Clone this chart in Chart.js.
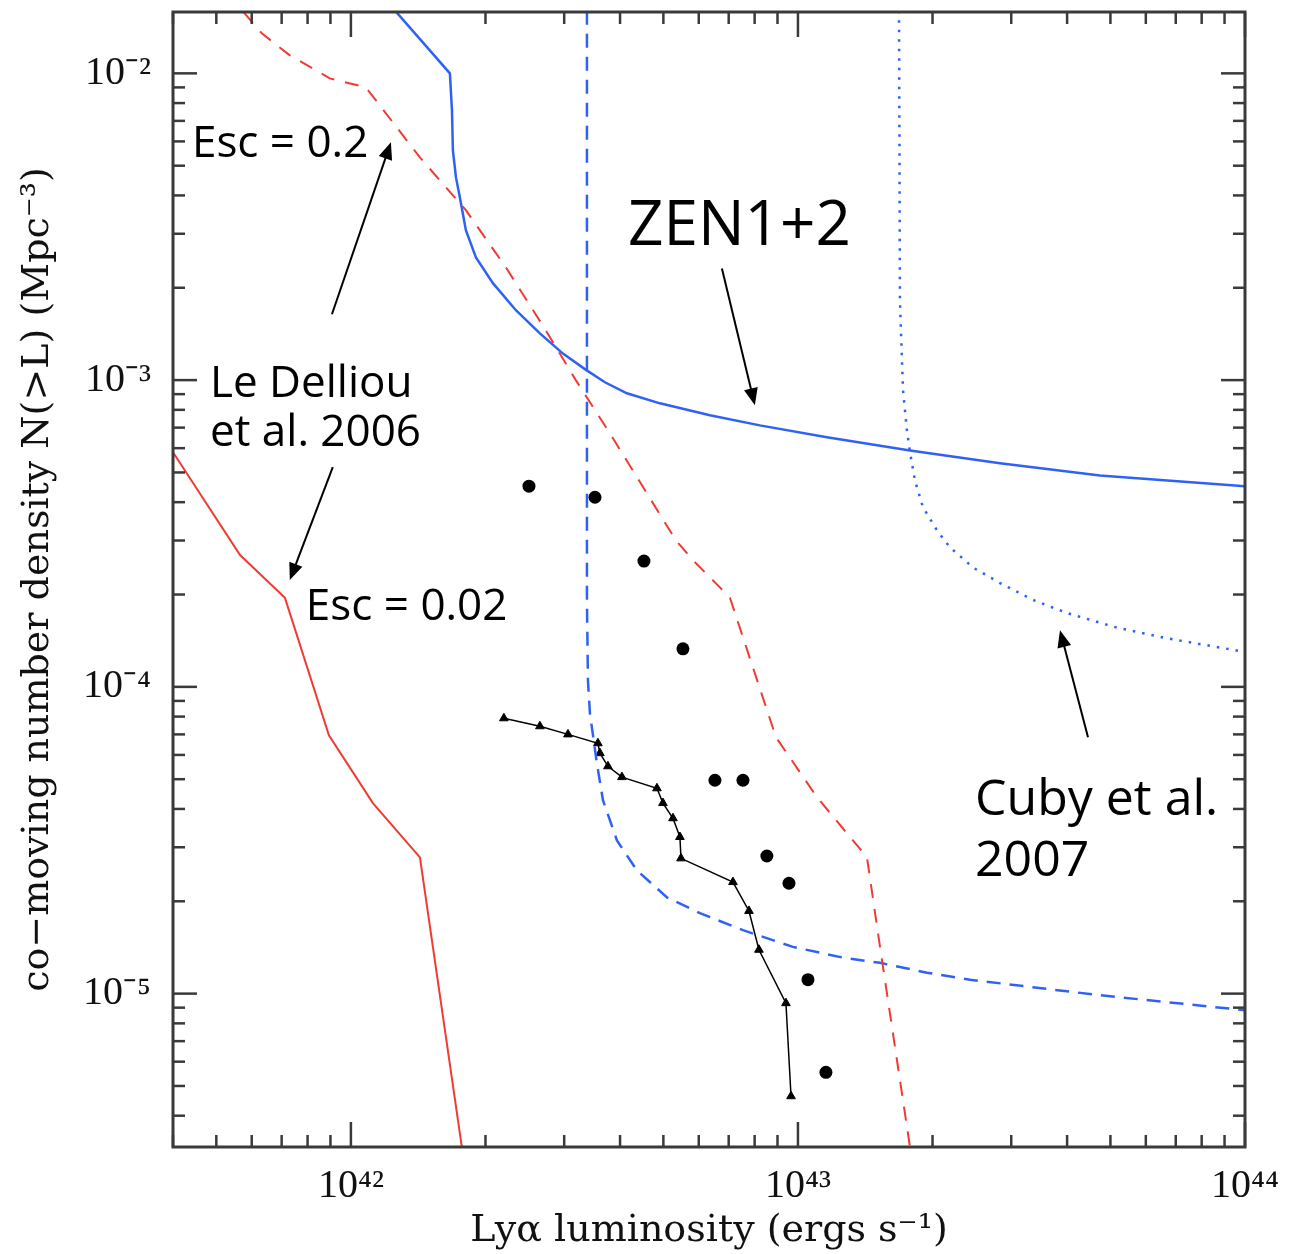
<!DOCTYPE html>
<html>
<head>
<meta charset="utf-8">
<title>Cumulative Lya number density</title>
<script src="https://cdn.jsdelivr.net/npm/chart.js@4.4.1/dist/chart.umd.min.js"></script>
<style>
  html, body { margin: 0; padding: 0; background: #fff; }
  #chart { display: block; }
</style>
</head>
<body>
<canvas id="chart" width="1289" height="1254"></canvas>
<script>
// Lya luminosity (erg/s) and N(>L) (Mpc^-3)

// Le Delliou et al. 2006, Esc = 0.02 (red solid)
const esc002L = [4.0e41, 5.65e41, 7.12e41, 8.93e41, 1.12e42, 1.427e42, 1.771e42];
const esc002N = [5.82e-4, 2.69e-4, 1.95e-4, 6.95e-5, 4.18e-5, 2.78e-5, 3.16e-6];

// Le Delliou et al. 2006, Esc = 0.2 (red dashed)
const esc02L = [5.76e41, 6.32e41, 7.30e41, 8.97e41, 1.08e42, 1.427e42, 1.808e42, 2.222e42, 2.731e42,
                3.187e42, 3.796e42, 5.335e42, 5.82e42, 6.69e42, 7.05e42, 8.93e42, 1.103e43, 1.427e43,
                1.526e43, 1.781e43];
const esc02N = [1.58e-2, 1.35e-2, 1.145e-2, 9.63e-3, 9.0e-3, 5.32e-3, 3.58e-3, 2.33e-3, 1.45e-3,
                9.98e-4, 6.71e-4, 3.0e-4, 2.59e-4, 2.11e-4, 1.945e-4, 6.85e-5, 4.37e-5, 2.78e-5,
                1.42e-5, 3.16e-6];

// ZEN1+2 limit (blue solid)
const zenL = [1.254e42, 1.665e42, 1.683e42, 1.691e42, 1.718e42, 1.753e42, 1.808e42, 1.904e42, 2.078e42,
              2.339e42, 2.647e42, 2.981e42, 3.356e42, 3.70e42, 4.144e42, 4.912e42, 6.355e42, 8.22e42,
              1.161e43, 1.781e43, 2.831e43, 4.738e43, 1e44];
const zenN = [1.604e-2, 1.0e-2, 7.57e-3, 5.61e-3, 4.58e-3, 3.94e-3, 3.08e-3, 2.51e-3, 2.07e-3,
              1.69e-3, 1.42e-3, 1.22e-3, 1.08e-3, 9.84e-4, 9.06e-4, 8.40e-4, 7.68e-4, 7.12e-4,
              6.51e-4, 5.90e-4, 5.36e-4, 4.89e-4, 4.51e-4];

// second limit curve (blue dashed)
const dashL = [3.373e42, 3.373e42, 3.39e42, 3.425e42, 3.55e42, 3.663e42, 3.936e42, 4.364e42, 5.093e42,
               6.036e42, 7.534e42, 9.745e42, 1.261e43, 1.526e43, 1.944e43, 2.425e43, 4.738e43, 1e44];
const dashN = [1.6e-2, 1.92e-4, 1.05e-4, 8.20e-5, 5.64e-5, 4.27e-5, 3.16e-5, 2.52e-5, 2.06e-5,
               1.83e-5, 1.61e-5, 1.42e-5, 1.31e-5, 1.26e-5, 1.17e-5, 1.11e-5, 9.88e-6, 8.83e-6];

// Cuby et al. 2007 (blue dotted)
const cubyL = [1.683e43, 1.691e43, 1.718e43, 1.753e43, 1.781e43, 1.827e43, 1.904e43, 2.046e43, 2.188e43,
               2.463e43, 2.831e43, 3.356e43, 3.998e43, 5.171e43, 6.69e43, 1e44];
const cubyN = [1.6e-2, 1.82e-3, 9.26e-4, 6.86e-4, 5.82e-4, 4.71e-4, 3.85e-4, 3.24e-4, 2.85e-4,
               2.45e-4, 2.18e-4, 1.92e-4, 1.74e-4, 1.56e-4, 1.44e-4, 1.30e-4];

// observed cumulative counts (black triangles)
const triL = [2.199e42, 2.647e42, 3.059e42, 3.569e42, 3.606e42, 3.758e42, 4.039e42, 4.837e42, 4.989e42,
              5.253e42, 5.445e42, 5.474e42, 7.155e42, 7.77e42, 8.18e42, 9.40e42, 9.65e42];
const triN = [7.90e-5, 7.44e-5, 7.00e-5, 6.55e-5, 6.08e-5, 5.51e-5, 5.08e-5, 4.67e-5, 4.18e-5,
              3.73e-5, 3.24e-5, 2.76e-5, 2.31e-5, 1.86e-5, 1.39e-5, 9.31e-6, 4.63e-6];

// black dots
const dotL = [2.502e42, 3.515e42, 4.524e42, 5.53e42, 6.521e42, 7.534e42, 8.52e42, 9.548e42, 1.053e43, 1.155e43];
const dotN = [4.51e-4, 4.15e-4, 2.57e-4, 1.33e-4, 4.96e-5, 4.96e-5, 2.81e-5, 2.29e-5, 1.11e-5, 5.54e-6];

// axis ranges and labelled ticks
const xMin = 4e41, xMax = 1e44;
const yMin = 3.1623e-6, yMax = 1.5849e-2;
const xTicks = [1e42, 1e43, 1e44];
const yTicks = [1e-2, 1e-3, 1e-4, 1e-5];

// annotations, anchored in data coordinates
const labels = [
  { text: 'Esc = 0.2', L: 4.41e41, N: 5.32e-3, size: 44 },
  { text: 'ZEN1+2', L: 4.166e42, N: 2.75e-3, size: 62 },
  { text: 'Le Delliou', L: 4.84e41, N: 8.79e-4, size: 44 },
  { text: 'et al. 2006', L: 4.84e41, N: 6.08e-4, size: 44 },
  { text: 'Esc = 0.02', L: 7.93e41, N: 1.65e-4, size: 44 },
  { text: 'Cuby et al.', L: 2.489e43, N: 3.82e-5, size: 50 },
  { text: '2007', L: 2.489e43, N: 2.41e-5, size: 50 }
];
const arrows = [
  { from: [9.07e41, 1.64e-3], to: [1.229e42, 5.96e-3] },
  { from: [9.11e41, 5.20e-4], to: [7.30e41, 2.23e-4] },
  { from: [6.76e42, 2.31e-3], to: [8.01e42, 8.28e-4] },
  { from: [4.455e43, 6.85e-5], to: [3.856e43, 1.53e-4] }
];

const toPts = (xs, ys) => xs.map((v, i) => ({ x: v, y: ys[i] }));

const sup = { '-': '\u207B', '0': '\u2070', '1': '\u00B9', '2': '\u00B2', '3': '\u00B3', '4': '\u2074',
              '5': '\u2075', '6': '\u2076', '7': '\u2077', '8': '\u2078', '9': '\u2079' };
function powLabel(v) {
    const e = Math.round(Math.log10(v));
    return '10' + String(e).split('').map(c => sup[c]).join('');
}

// keep the plot box where the original has it, whatever the labels measure
function fixBox(s, prop, size) {
    s[prop] = size;
    s.paddingTop = 0;
    s.paddingBottom = 0;
    s.paddingLeft = 0;
    s.paddingRight = 0;
}

const RED = '#ef3b33';
const BLUE = '#2f62f4';

const framePlugin = {
    id: 'frame',
    afterDatasetsDraw(chart) {
        const { ctx, chartArea: a, scales: { x, y } } = chart;
        ctx.save();
        const seg = (x1, y1, x2, y2) => { ctx.beginPath(); ctx.moveTo(x1, y1); ctx.lineTo(x2, y2); ctx.stroke(); };

        // tick marks on all four sides, pointing inwards
        ctx.strokeStyle = '#3a3a3a';
        ctx.lineWidth = 2.5;
        for (let d = 41; d <= 44; d++) {
            for (let m = 1; m <= 9; m++) {
                const v = m * Math.pow(10, d);
                if (v < xMin * 0.999 || v > xMax * 1.001) continue;
                const px = x.getPixelForValue(v);
                const len = m === 1 ? 25 : 12;
                seg(px, a.bottom, px, a.bottom - len);
                seg(px, a.top, px, a.top + len);
            }
        }
        for (let d = -6; d <= -2; d++) {
            for (let m = 1; m <= 9; m++) {
                const v = m * Math.pow(10, d);
                if (v < yMin * 0.999 || v > yMax * 1.001) continue;
                const py = y.getPixelForValue(v);
                const len = m === 1 ? 24 : 12;
                seg(a.left, py, a.left + len, py);
                seg(a.right, py, a.right - len, py);
            }
        }

        // box
        ctx.lineWidth = 3;
        ctx.strokeRect(a.left, a.top, a.right - a.left, a.bottom - a.top);

        // arrows
        ctx.strokeStyle = '#000';
        ctx.fillStyle = '#000';
        ctx.lineWidth = 2;
        arrows.forEach(ar => {
            const x1 = x.getPixelForValue(ar.from[0]), y1 = y.getPixelForValue(ar.from[1]);
            const x2 = x.getPixelForValue(ar.to[0]), y2 = y.getPixelForValue(ar.to[1]);
            const ang = Math.atan2(y2 - y1, x2 - x1);
            const hl = 17, hw = 7;
            seg(x1, y1, x2 - Math.cos(ang) * hl * 0.8, y2 - Math.sin(ang) * hl * 0.8);
            ctx.beginPath();
            ctx.moveTo(x2, y2);
            ctx.lineTo(x2 - Math.cos(ang) * hl - Math.sin(ang) * hw, y2 - Math.sin(ang) * hl + Math.cos(ang) * hw);
            ctx.lineTo(x2 - Math.cos(ang) * hl + Math.sin(ang) * hw, y2 - Math.sin(ang) * hl - Math.cos(ang) * hw);
            ctx.closePath();
            ctx.fill();
        });

        // text labels
        ctx.textAlign = 'left';
        ctx.textBaseline = 'alphabetic';
        labels.forEach(l => {
            ctx.font = l.size + 'px "Open Sans"';
            ctx.fillText(l.text, x.getPixelForValue(l.L), y.getPixelForValue(l.N));
        });
        ctx.restore();
    }
};

const ctx = document.getElementById('chart').getContext('2d');
new Chart(ctx, {
    type: 'scatter',
    data: {
        datasets: [
            { label: 'Esc = 0.02', data: toPts(esc002L, esc002N), showLine: true, borderColor: RED, borderWidth: 2, pointRadius: 0 },
            { label: 'Esc = 0.2', data: toPts(esc02L, esc02N), showLine: true, borderColor: RED, borderWidth: 2, borderDash: [14, 11], pointRadius: 0 },
            { label: 'ZEN1+2', data: toPts(zenL, zenN), showLine: true, borderColor: BLUE, borderWidth: 2.5, pointRadius: 0 },
            { label: 'limit (dashed)', data: toPts(dashL, dashN), showLine: true, borderColor: BLUE, borderWidth: 2.5, borderDash: [14, 9], pointRadius: 0 },
            { label: 'Cuby et al. 2007', data: toPts(cubyL, cubyN), showLine: true, borderColor: BLUE, borderWidth: 2.5, borderDash: [2.5, 7], pointRadius: 0 },
            { label: 'counts', data: toPts(triL, triN), showLine: true, borderColor: '#000', borderWidth: 1.5,
              pointStyle: 'triangle', pointRadius: 5, pointBackgroundColor: '#000', pointBorderColor: '#000', pointBorderWidth: 1 },
            { label: 'dots', data: toPts(dotL, dotN), showLine: false, pointStyle: 'circle', pointRadius: 6.5,
              pointBackgroundColor: '#000', pointBorderColor: '#000', pointBorderWidth: 0 }
        ]
    },
    options: {
        responsive: false,
        animation: false,
        events: [],
        layout: { padding: { top: 12, right: 44, left: 0, bottom: 0 } },
        plugins: { legend: { display: false }, title: { display: false }, tooltip: { enabled: false } },
        scales: {
            x: {
                type: 'logarithmic',
                min: xMin,
                max: xMax,
                grid: { display: false, drawTicks: false },
                border: { display: false },
                afterBuildTicks: s => { s.ticks = xTicks.map(v => ({ value: v })); },
                afterFit: s => fixBox(s, 'height', 107),
                ticks: {
                    autoSkip: false,
                    maxRotation: 0,
                    padding: 15,
                    color: '#111',
                    font: { family: '"Liberation Serif"', size: 40 },
                    callback: v => powLabel(v)
                },
                title: {
                    display: true,
                    text: 'Ly\u03B1 luminosity (ergs s\u207B\u00B9)',
                    color: '#111',
                    font: { family: '"DejaVu Serif"', size: 38 },
                    padding: { top: 0, bottom: 0 }
                }
            },
            y: {
                type: 'logarithmic',
                min: yMin,
                max: yMax,
                grid: { display: false, drawTicks: false },
                border: { display: false },
                afterBuildTicks: s => { s.ticks = yTicks.map(v => ({ value: v })); },
                afterFit: s => fixBox(s, 'width', 173),
                ticks: {
                    autoSkip: false,
                    padding: 22,
                    color: '#111',
                    font: { family: '"Liberation Serif"', size: 40 },
                    callback: v => powLabel(v)
                },
                title: {
                    display: true,
                    text: 'co\u2212moving number density N(>L) (Mpc\u207B\u00B3)',
                    color: '#111',
                    font: { family: '"DejaVu Serif"', size: 38 },
                    padding: { top: 15, bottom: 0 }
                }
            }
        }
    },
    plugins: [framePlugin]
});
</script>
</body>
</html>
